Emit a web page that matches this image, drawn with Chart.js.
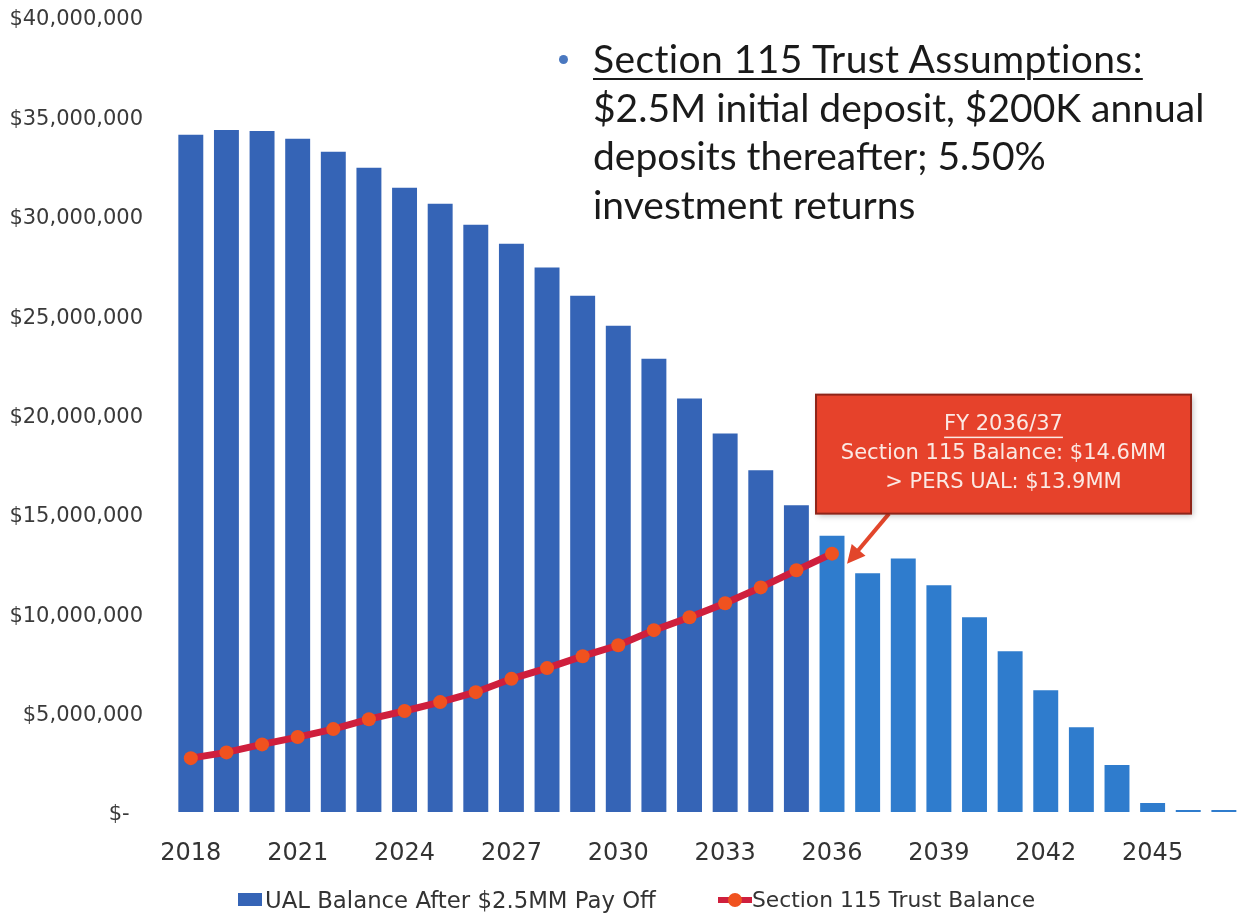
<!DOCTYPE html>
<html>
<head>
<meta charset="utf-8">
<script src="https://cdn.jsdelivr.net/npm/chart.js@4.4.1/dist/chart.umd.min.js"></script>
<style>
  html, body { margin: 0; padding: 0; background: #fff; }
  #wrap { position: relative; width: 1251px; height: 915px; }
  #note {
    position: absolute; left: 593px; top: 34px;
    font-family: Lato, sans-serif; font-size: 39px; line-height: 48.5px;
    color: #1a1a1a; white-space: nowrap;
  }
  #note .head {
    letter-spacing: 0.4px;
    text-decoration: underline; text-decoration-thickness: 2px; text-underline-offset: 5px;
  }
  #note .dot {
    position: absolute; left: -34px; top: 21px; width: 9px; height: 9px;
    border-radius: 50%; background: #4a78c0;
  }
  .lg { position: absolute; }
  .lg-text {
    top: 887px; font-family: "DejaVu Sans", sans-serif;
    line-height: 26px; color: #333; white-space: nowrap;
  }
  .lg-bar { left: 238px; top: 893px; width: 24px; height: 13px; background: #3564b6; }
  .lg-line { left: 718px; top: 897px; width: 34px; height: 6px; background: #cf1f3d; }
  .lg-dot { left: 728px; top: 893px; width: 14px; height: 14px; border-radius: 50%; background: #f0521f; }
</style>
</head>
<body>
<div id="wrap">
  <canvas id="ualChart" width="1251" height="915"></canvas>
  <div id="note">
    <span class="dot"></span>
    <div class="head">Section 115 Trust Assumptions:</div>
    <div>$2.5M initial deposit, $200K annual</div>
    <div>deposits thereafter; 5.50%</div>
    <div>investment returns</div>
  </div>
  <div class="lg lg-bar"></div>
  <div class="lg lg-text" style="left:265px; font-size:22.8px">UAL Balance After $2.5MM Pay Off</div>
  <div class="lg lg-line"></div>
  <div class="lg lg-dot"></div>
  <div class="lg lg-text" style="left:752px; font-size:21.8px">Section 115 Trust Balance</div>
</div>
<script>
// Fiscal years on the x axis
const years = [
  "2018", "2019", "2020", "2021", "2022", "2023", "2024", "2025", "2026", "2027",
  "2028", "2029", "2030", "2031", "2032", "2033", "2034", "2035", "2036", "2037",
  "2038", "2039", "2040", "2041", "2042", "2043", "2044", "2045", "2046", "2047"
];

// UAL balance after the $2.5MM pay off
const ualBalance = [
  34070000, 34320000, 34270000, 33870000, 33220000, 32410000, 31410000, 30600000, 29550000, 28590000,
  27390000, 25980000, 24470000, 22810000, 20800000, 19050000, 17190000, 15430000, 13900000, 12010000,
  12760000, 11410000, 9800000, 8090000, 6130000, 4270000, 2360000, 450000, 100000, 100000
];

// Section 115 trust balance (line stops at 2036)
const trustBalance = [
  2710000, 3000000, 3400000, 3770000, 4170000, 4670000, 5080000, 5530000, 6030000, 6700000,
  7240000, 7840000, 8390000, 9150000, 9800000, 10500000, 11300000, 12160000, 13000000, null,
  null, null, null, null, null, null, null, null, null, null
];

const calloutLines = ["FY 2036/37", "Section 115 Balance: $14.6MM", "> PERS UAL: $13.9MM"];

const darkBlue = "#3564b6";
const lightBlue = "#2f7ccd";
const lineRed = "#cf1f3d";
const dotOrange = "#f0521f";

const calloutPlugin = {
  id: "callout",
  afterDatasetsDraw(chart) {
    const { ctx, scales: { x, y } } = chart;
    const i = years.indexOf("2036");
    const px = x.getPixelForValue(i);
    const left = px - 16;
    const top = y.getPixelForValue(21000000);
    const w = 375, h = 119;

    ctx.save();
    // arrow from box to the crossing point
    const sx = left + 73, sy = top + h;
    const tx = px + 15, ty = y.getPixelForValue(trustBalance[i]) + 10;
    const ang = Math.atan2(ty - sy, tx - sx);
    ctx.strokeStyle = "#e2462b";
    ctx.fillStyle = "#e2462b";
    ctx.lineWidth = 4;
    ctx.beginPath();
    ctx.moveTo(sx, sy);
    ctx.lineTo(tx - 12 * Math.cos(ang), ty - 12 * Math.sin(ang));
    ctx.stroke();
    ctx.beginPath();
    ctx.moveTo(tx, ty);
    ctx.lineTo(tx - 18 * Math.cos(ang) + 9 * Math.sin(ang), ty - 18 * Math.sin(ang) - 9 * Math.cos(ang));
    ctx.lineTo(tx - 18 * Math.cos(ang) - 9 * Math.sin(ang), ty - 18 * Math.sin(ang) + 9 * Math.cos(ang));
    ctx.closePath();
    ctx.fill();

    // box
    ctx.shadowColor = "rgba(0,0,0,0.25)";
    ctx.shadowBlur = 6;
    ctx.shadowOffsetX = 2;
    ctx.shadowOffsetY = 2;
    ctx.fillStyle = "#e6422b";
    ctx.fillRect(left, top, w, h);
    ctx.shadowColor = "transparent";
    ctx.strokeStyle = "#8e2418";
    ctx.lineWidth = 2;
    ctx.strokeRect(left, top, w, h);

    // text
    ctx.fillStyle = "#fbe9e4";
    ctx.font = "21px 'DejaVu Sans'";
    ctx.textAlign = "center";
    ctx.textBaseline = "middle";
    const cx = left + w / 2;
    calloutLines.forEach((t, k) => {
      ctx.fillText(t, cx, top + 30 + k * 29);
    });
    const uw = ctx.measureText(calloutLines[0]).width;
    ctx.fillRect(cx - uw / 2, top + 42, uw, 1.5);
    ctx.restore();
  }
};

const ctx = document.getElementById("ualChart").getContext("2d");
const ualChart = new Chart(ctx, {
  type: "bar",
  data: {
    labels: years,
    datasets: [
      {
        type: "line",
        label: "Section 115 Trust Balance",
        data: trustBalance,
        borderColor: lineRed,
        borderWidth: 7,
        pointRadius: 7,
        pointBackgroundColor: dotOrange,
        pointBorderColor: dotOrange,
        pointBorderWidth: 0,
        tension: 0,
        spanGaps: false,
        order: 0,
      },
      {
        label: "UAL Balance After $2.5MM Pay Off",
        data: ualBalance,
        backgroundColor: (c) => (c.dataIndex >= 18 ? lightBlue : darkBlue),
        barPercentage: 0.7,
        categoryPercentage: 1.0,
        order: 1,
      },
    ],
  },
  options: {
    responsive: false,
    animation: false,
    layout: { padding: { top: 0, right: 8, bottom: 0, left: 0 } },
    plugins: {
      tooltip: { enabled: false },
      legend: { display: false },
    },
    scales: {
      x: {
        grid: { display: false, drawTicks: false },
        border: { display: false },
        afterFit: (scale) => { scale.height = 103; },
        ticks: {
          autoSkip: false,
          maxRotation: 0,
          padding: 27,
          color: "#333",
          font: { family: "DejaVu Sans", size: 24 },
          callback: (v, i) => (i % 3 === 0 ? years[i] : ""),
        },
      },
      y: {
        min: 0,
        max: 40000000,
        grid: { display: false, drawTicks: false },
        border: { display: false },
        afterFit: (scale) => {
          scale.width = 173;
          scale.paddingTop = 17;
          scale.paddingBottom = 0;
        },
        ticks: {
          stepSize: 5000000,
          padding: 30,
          labelOffset: 3,
          color: "#3a3a3a",
          font: { family: "DejaVu Sans", size: 21 },
          callback: (v) => (v === 0 ? "$-  " : "$" + v.toLocaleString("en-US")),
        },
      },
    },
  },
  plugins: [calloutPlugin],
});
</script>
</body>
</html>
